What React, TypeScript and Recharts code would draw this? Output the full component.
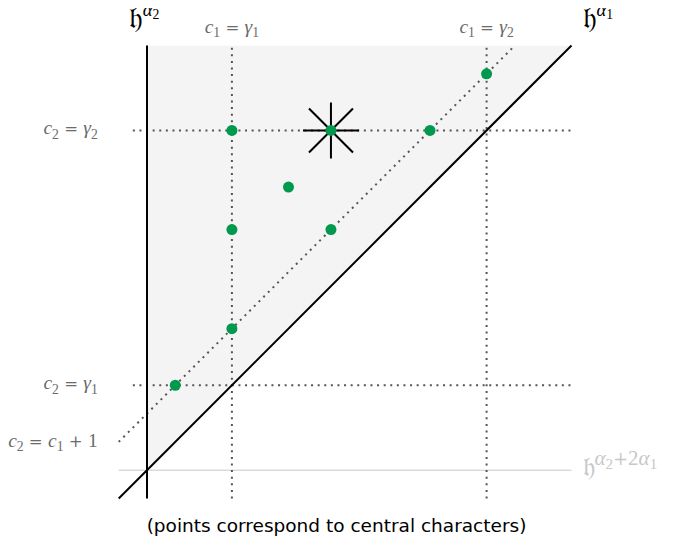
import React from "react";
import {
  ComposedChart,
  Area,
  Scatter,
  XAxis,
  YAxis,
  ReferenceLine,
} from "recharts";

// axis range in "diagram units" (γ1 = 3, γ2 = 12)
const AXIS_MIN = -1;
const AXIS_MAX = 15;
const GAMMA_1 = 3;
const GAMMA_2 = 12;
const DIAG_SHIFT = 2; // offset of the dotted c2 = c1 + 1 line
const H_DOTS_START = -0.5;

// shaded wedge between h^α2 and h^α1
const WEDGE_X = [0, 15];
const WEDGE_LOW = [0, 15];
const WEDGE_HIGH = [15, 15];

// central characters
const POINT_X = [1, 3, 3, 5, 6.5, 3, 6.5, 10, 12];
const POINT_Y = [3, 5, 8.5, 10, 8.5, 12, 12, 12, 14];

// the starred point
const STAR_X = [6.5];
const STAR_Y = [12];

const TITLE = "(points correspond to central characters)";

type Part = [string, string];

const LBL_C1_G1: Part[] = [["c", "i"], ["1", "s"], [" = ", "o"], ["γ", "i"], ["1", "s"]];
const LBL_C1_G2: Part[] = [["c", "i"], ["1", "s"], [" = ", "o"], ["γ", "i"], ["2", "s"]];
const LBL_C2_G2: Part[] = [["c", "i"], ["2", "s"], [" = ", "o"], ["γ", "i"], ["2", "s"]];
const LBL_C2_G1: Part[] = [["c", "i"], ["2", "s"], [" = ", "o"], ["γ", "i"], ["1", "s"]];
const LBL_DIAG: Part[] = [
  ["c", "i"], ["2", "s"], [" = ", "o"], ["c", "i"], ["1", "s"], [" + ", "o"], ["1", "n"],
];
const LBL_H_A2: Part[] = [["𝔥", "f"], ["α", "pi"], ["2", "ps"]];
const LBL_H_A1: Part[] = [["𝔥", "f"], ["α", "pi"], ["1", "ps"]];
const LBL_H_A2A1: Part[] = [
  ["𝔥", "f"], ["α", "Pi"], ["2", "Ps"], ["+", "Po"], ["2", "Pn"], ["α", "Pi"], ["1", "Ps"],
];

// offset (em), scale, italic
const PART_STYLE: Record<string, [number, number, boolean]> = {
  i: [0, 1, true],
  n: [0, 1, false],
  o: [0, 0.85, false],
  f: [0, 1, false],
  s: [0.22, 0.7, false],
  pi: [-0.4, 0.62, true],
  ps: [-0.28, 0.46, false],
  Pi: [-0.42, 0.78, true],
  Pn: [-0.42, 0.78, false],
  Po: [-0.42, 0.66, false],
  Ps: [-0.28, 0.56, false],
};

const SERIF = "'Liberation Serif', 'DejaVu Serif', serif";
const OPS = "'DejaVu Serif', serif";
const FRAKTUR = "'DejaVu Serif', 'DejaVu Sans', 'Noto Sans', serif";

function MathText(props: {
  x: number;
  y: number;
  parts: Part[];
  anchor: "start" | "middle" | "end";
  size: number;
  fill: string;
}) {
  const { x, y, parts, anchor, size, fill } = props;
  let shift = 0;
  return (
    <text
      x={x}
      y={y}
      textAnchor={anchor}
      fill={fill}
      fontSize={size}
      fontFamily={SERIF}
      style={{ whiteSpace: "pre" }}
    >
      {parts.map(([t, k], i) => {
        const [off, scale, italic] = PART_STYLE[k];
        const target = off * size;
        const dy = target - shift;
        shift = target;
        return (
          <tspan
            key={i}
            dy={dy}
            fontSize={size * scale}
            fontStyle={italic ? "italic" : "normal"}
            fontFamily={k === "f" ? FRAKTUR : k === "o" || k === "Po" ? OPS : SERIF}
          >
            {t}
          </tspan>
        );
      })}
    </text>
  );
}

type Place = (vb: any) => { x: number; y: number; anchor: "start" | "middle" | "end" };

const mathLabel =
  (parts: Part[], place: Place, size = 19.5, fill = "#6a6a6a") =>
  (props: any) => {
    const vb = props.viewBox || {};
    const p = place(vb);
    return <MathText x={p.x} y={p.y} anchor={p.anchor} parts={parts} size={size} fill={fill} />;
  };

const above: Place = (vb) => ({ x: vb.x + (vb.width || 0) / 2, y: vb.y - 12.5, anchor: "middle" });
const leftOf: Place = (vb) => ({ x: vb.x - 35, y: vb.y + 4, anchor: "end" });

function Star(props: any) {
  const { cx, cy } = props;
  const a = 28;
  const d = 22;
  return (
    <g stroke="#000" strokeWidth={2}>
      <line x1={cx - a} y1={cy} x2={cx + a} y2={cy} />
      <line x1={cx} y1={cy - a} x2={cx} y2={cy + a} />
      <line x1={cx - d} y1={cy - d} x2={cx + d} y2={cy + d} />
      <line x1={cx - d} y1={cy + d} x2={cx + d} y2={cy - d} />
    </g>
  );
}

function Dot(props: any) {
  return <circle cx={props.cx} cy={props.cy} r={5.5} fill="#00994e" />;
}

const DOTTED = { stroke: "#555", strokeWidth: 2, strokeDasharray: "2 4.6" };

export default function App() {
  const wedge = WEDGE_X.map((x, i) => ({ x, band: [WEDGE_LOW[i], WEDGE_HIGH[i]] }));
  const points = POINT_X.map((x, i) => ({ x, y: POINT_Y[i] }));
  const star = STAR_X.map((x, i) => ({ x, y: STAR_Y[i] }));

  // shifted up/left by the body margin so the svg starts at the page corner
  return (
    <div style={{ position: "relative", width: 675, height: 538, margin: "-8px 0 0 -8px" }}>
      <ComposedChart
        width={675}
        height={538}
        data={wedge}
        margin={{ top: 45.5, right: 103.5, bottom: 39.5, left: 118.7 }}
      >
        <XAxis type="number" dataKey="x" domain={[AXIS_MIN, AXIS_MAX]} hide allowDataOverflow />
        <YAxis type="number" dataKey="y" domain={[AXIS_MIN, AXIS_MAX]} hide allowDataOverflow />
        <Area
          type="linear"
          dataKey="band"
          fill="#f4f4f4"
          fillOpacity={1}
          stroke="none"
          isAnimationActive={false}
        />
        {/* h^{α2+2α1} wall */}
        <ReferenceLine
          segment={[{ x: AXIS_MIN, y: 0 }, { x: AXIS_MAX, y: 0 }]}
          stroke="#c8c8c8"
          strokeWidth={1}
          label={mathLabel(
            LBL_H_A2A1,
            (vb) => ({ x: vb.x + vb.width + 11, y: vb.y + 6, anchor: "start" }),
            27,
            "#c8c8c8"
          )}
        />
        {/* dotted guides */}
        <ReferenceLine
          segment={[{ x: GAMMA_1, y: AXIS_MIN }, { x: GAMMA_1, y: AXIS_MAX }]}
          {...DOTTED}
          label={mathLabel(LBL_C1_G1, above)}
        />
        <ReferenceLine
          segment={[{ x: GAMMA_2, y: AXIS_MIN }, { x: GAMMA_2, y: AXIS_MAX }]}
          {...DOTTED}
          label={mathLabel(LBL_C1_G2, above)}
        />
        <ReferenceLine
          segment={[{ x: H_DOTS_START, y: GAMMA_2 }, { x: AXIS_MAX, y: GAMMA_2 }]}
          {...DOTTED}
          label={mathLabel(LBL_C2_G2, leftOf)}
        />
        <ReferenceLine
          segment={[{ x: H_DOTS_START, y: GAMMA_1 }, { x: AXIS_MAX, y: GAMMA_1 }]}
          {...DOTTED}
          label={mathLabel(LBL_C2_G1, leftOf)}
        />
        <ReferenceLine
          segment={[
            { x: AXIS_MIN, y: AXIS_MIN + DIAG_SHIFT },
            { x: AXIS_MAX - DIAG_SHIFT, y: AXIS_MAX },
          ]}
          {...DOTTED}
          label={mathLabel(LBL_DIAG, (vb) => ({
            x: vb.x - 21,
            y: vb.y + vb.height + 5,
            anchor: "end",
          }))}
        />
        {/* walls */}
        <ReferenceLine
          segment={[{ x: 0, y: AXIS_MIN }, { x: 0, y: AXIS_MAX }]}
          stroke="#000"
          strokeWidth={2}
          label={mathLabel(
            LBL_H_A2,
            (vb) => ({ x: vb.x - 3, y: vb.y - 18, anchor: "middle" }),
            30,
            "#000"
          )}
        />
        <ReferenceLine
          segment={[{ x: AXIS_MIN, y: AXIS_MIN }, { x: AXIS_MAX, y: AXIS_MAX }]}
          stroke="#000"
          strokeWidth={2}
          label={mathLabel(
            LBL_H_A1,
            (vb) => ({ x: vb.x + vb.width + 11, y: vb.y - 18, anchor: "start" }),
            30,
            "#000"
          )}
        />
        <Scatter data={star} shape={<Star />} isAnimationActive={false} />
        <Scatter data={points} shape={<Dot />} isAnimationActive={false} />
      </ComposedChart>
      <div
        style={{
          position: "absolute",
          left: 0,
          top: 515,
          width: 673,
          lineHeight: "22px",
          textAlign: "center",
          fontFamily: "'DejaVu Sans', sans-serif",
          fontSize: 18.5,
          color: "#000",
        }}
      >
        {TITLE}
      </div>
    </div>
  );
}
